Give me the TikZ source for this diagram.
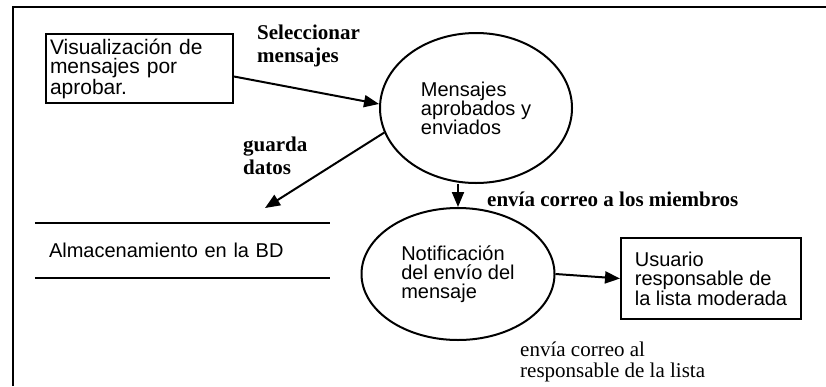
\documentclass[tikz,border=0pt]{standalone}
\usepackage{fontspec}
\setmainfont{Liberation Serif}
\setsansfont{Liberation Sans}
\usetikzlibrary{shapes.geometric,arrows.meta}

\begin{document}
\begin{tikzpicture}[x=1pt,y=-1pt,
    proc/.style={draw,line width=2pt,align=left,font=\sffamily\fontsize{20}{19.5}\selectfont},
    ellproc/.style={ellipse,draw,line width=2pt,inner sep=0pt,align=left,font=\sffamily\fontsize{20}{19}\selectfont},
    lbl/.style={anchor=north west,inner sep=0pt,align=left,font=\bfseries\fontsize{21}{23}\selectfont},
    flow/.style={line width=2pt,-{Triangle[length=15pt,width=12pt]}}]
  \useasboundingbox (0,0) rectangle (826,386);
  \draw[line width=1.8pt] (13,386) -- (13,7) -- (826,7);

  \node[proc,anchor=north west,minimum width=187pt,minimum height=69pt,text width=179pt,inner xsep=4pt,font=\sffamily\fontsize{21}{19.5}\selectfont] (visual) at (45,33) {Visualización de\\mensajes por\\aprobar.};
  \node[ellproc,minimum width=192pt,minimum height=150pt] (ell1) at (476,108) {Mensajes\\aprobados y\\enviados};
  \node[ellproc,minimum width=193pt,minimum height=132pt] (ell2) at (458,274) {Notificación\\del envío del\\mensaje};
  \node[proc,anchor=north west,minimum width=180pt,minimum height=81pt] (user) at (620,237) {Usuario\\responsable de\\la lista moderada};

  % almacen de datos
  \node[font=\sffamily\fontsize{20}{24}\selectfont,align=left,minimum width=295pt,minimum height=55pt,text width=267pt,inner xsep=14pt] (store) at (182.5,250.5) {Almacenamiento en la BD};
  \draw[line width=1.8pt] (store.north west) -- (store.north east) (store.south west) -- (store.south east);
  \coordinate (bdIn) at (265,208);

  \draw[flow] ([yshift=-8pt]visual.east) -- ([yshift=4pt]ell1.west);
  \draw[flow] (ell1.195) -- (bdIn);
  \draw[flow] (ell1.south -| ell2.north) -- (ell2.north);
  \draw[flow] (ell2.east) -- (user.west);

  \node[lbl] (selLbl) at (257,25) {Seleccionar\\mensajes};
  \node[lbl] (guardaLbl) at (243,137) {guarda\\datos};
  \node[lbl] (miembrosLbl) at (487,192) {envía correo a los miembros};
  \node[lbl,font=\fontsize{21}{21}\selectfont] (respLbl) at (520,342) {envía correo al\\responsable de la lista};
\end{tikzpicture}
\end{document}
